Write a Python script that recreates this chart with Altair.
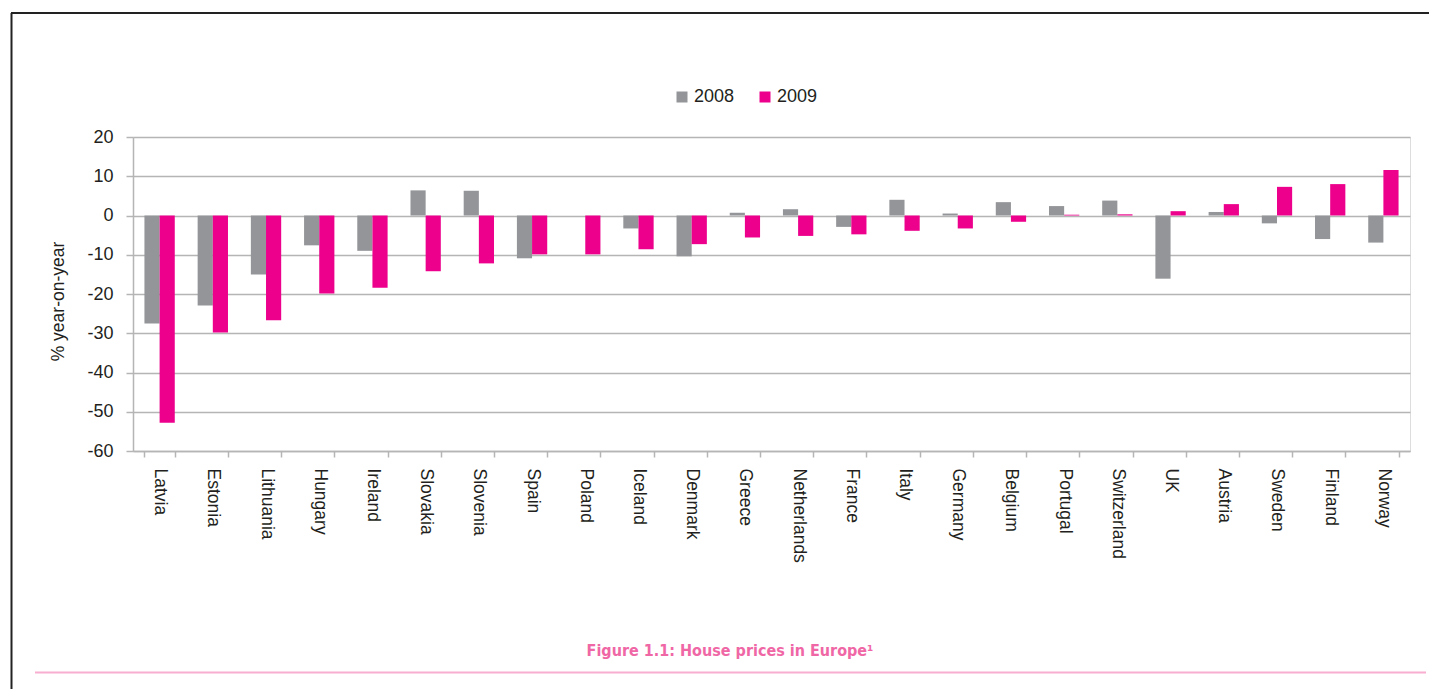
import altair as alt
import pandas as pd

countries = ["Latvia", "Estonia", "Lithuania", "Hungary", "Ireland", "Slovakia", "Slovenia",
             "Spain", "Poland", "Iceland", "Denmark", "Greece", "Netherlands", "France",
             "Italy", "Germany", "Belgium", "Portugal", "Switzerland", "UK", "Austria",
             "Sweden", "Finland", "Norway"]
v2008 = [-27.5, -22.9, -15.0, -7.6, -9.0, 6.4, 6.3, -10.9, 0.0, -3.3, -10.4, 0.7, 1.6, -2.9,
         4.0, 0.5, 3.4, 2.4, 3.8, -16.1, 0.9, -2.0, -6.0, -6.9]
v2009 = [-52.8, -29.8, -26.7, -19.9, -18.4, -14.2, -12.2, -9.9, -9.9, -8.6, -7.3, -5.6, -5.2,
         -4.8, -3.9, -3.3, -1.6, 0.2, 0.3, 1.1, 2.9, 7.3, 8.0, 11.6]
years = ["2008", "2009"]
colors = ["#939598", "#EC008C"]
y_ticks = [-60, -50, -40, -30, -20, -10, 0, 10, 20]
caption = "Figure 1.1: House prices in Europe\u00b9"

rows = []
for c, a, b in zip(countries, v2008, v2009):
    rows.append({"Country": c, "Year": "2008", "Value": a})
    rows.append({"Country": c, "Year": "2009", "Value": b})
df = pd.DataFrame(rows)

W, H = 1277, 314
grey = "#b5b5b5"
txt = "#231f20"

bars = alt.Chart(df).mark_bar().encode(
    x=alt.X("Country:N", sort=countries,
            scale=alt.Scale(paddingInner=0.43, paddingOuter=0.215),
            axis=alt.Axis(title=None, labelAngle=90, labelAlign="left", labelBaseline="middle",
                          tickBand="extent", tickSize=6, labelPadding=11, labelFontSize=17.5,
                          labelFont="Liberation Sans", labelColor=txt, labelOverlap=False,
                          domainColor=grey, domainWidth=1.5, tickColor=grey, tickWidth=1.5,
                          grid=False)),
    xOffset=alt.XOffset("Year:N", sort=years, scale=alt.Scale(paddingInner=0, paddingOuter=0)),
    y=alt.Y("Value:Q", scale=alt.Scale(domain=[-60, 20], nice=False, zero=False),
            axis=alt.Axis(values=y_ticks, title="% year-on-year", tickSize=7, labelPadding=13,
                          labelExpr="'' + datum.value",
                          labelFontSize=18, labelFont="Liberation Sans", labelColor=txt,
                          titleFont="Liberation Sans", titleFontSize=17.5, titleFontWeight="normal",
                          titleColor=txt, titlePadding=19, titleY=164,
                          domainColor=grey, domainWidth=1.5, tickColor=grey, tickWidth=1.5,
                          grid=True, gridColor=grey, gridWidth=1.5)),
    color=alt.Color("Year:N", scale=alt.Scale(domain=years, range=colors),
                    legend=alt.Legend(orient="none", legendX=540, legendY=-49,
                                      direction="horizontal", title=None, symbolType="square",
                                      symbolSize=121, symbolStrokeWidth=0, labelFontSize=18,
                                      labelFont="Liberation Sans", labelColor=txt,
                                      columnPadding=21, labelOffset=3, padding=0))
)

one = pd.DataFrame({"k": [0]})
top_line = alt.Chart(one).mark_rule(color="#222222", strokeWidth=2).encode(
    x=alt.value(-122), x2=alt.value(1310), y=alt.value(-124))
left_line = alt.Chart(one).mark_rule(color="#222222", strokeWidth=2).encode(
    x=alt.value(-121.5), y=alt.value(-124), y2=alt.value(560))
pink_line = alt.Chart(one).mark_rule(color="#F7AED0", strokeWidth=2).encode(
    x=alt.value(-98), x2=alt.value(1293), y=alt.value(535.5))
cap = alt.Chart(one).mark_text(font="'DejaVu Sans Condensed', 'Liberation Sans', sans-serif",
                               fontWeight="bold", fontSize=16,
                               color="#F067A6", align="center", baseline="middle").encode(
    x=alt.value(597), y=alt.value(514), text=alt.value(caption))

chart = alt.layer(bars, top_line, left_line, pink_line, cap).properties(
    width=W, height=H,
    autosize=alt.AutoSizeParams(type="none"),
    padding={"left": 125, "top": 129, "right": 19, "bottom": 238},
).configure_view(stroke=None).configure(background="white")

chart.save("out.html", embed_options={"renderer": "svg", "actions": False})
